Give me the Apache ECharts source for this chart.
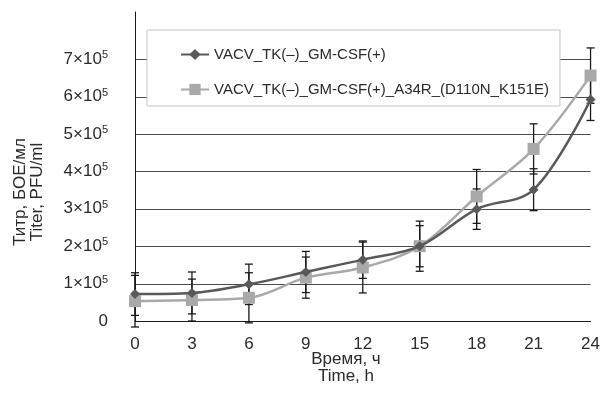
<!DOCTYPE html>
<html>
<head>
<meta charset="utf-8">
<script src="https://cdn.jsdelivr.net/npm/echarts@6/dist/echarts.min.js"></script>
<style>
  html, body { margin: 0; padding: 0; background: #fff; }
  #chart { width: 603px; height: 399px; }
</style>
</head>
<body>
<div id="chart"></div>
<script>
// time points, h
const hours = [0, 3, 6, 9, 12, 15, 18, 21, 24]

// titer, PFU/ml
const gmcsf = [72000, 75000, 98000, 131000, 164000, 200000, 299000, 351000, 592000]
const a34r = [53000, 56000, 62000, 116000, 143000, 200000, 333000, 460000, 656000]

// error bar half-widths
const gmcsfErr = [57000, 56000, 54000, 55000, 50000, 55000, 54000, 56000, 56000]
const a34rErr = [69000, 56000, 67000, 55000, 68000, 67000, 72000, 67000, 74000]

// horizontal grid lines
const gridValues = [100000, 200000, 300000, 400000, 500000, 600000, 700000]

const names = ['VACV_TK(–)_GM-CSF(+)', 'VACV_TK(–)_GM-CSF(+)_A34R_(D110N_K151E)']
const FONT = '"Liberation Sans", Arial, sans-serif'
const TEXT = '#2b2b2b'

const chart = echarts.init(document.getElementById('chart'), null, { renderer: 'canvas' })

function errData(vals, errs) {
  return hours.map((h, i) => [h, vals[i] - errs[i], vals[i] + errs[i]])
}

function renderErr(params, api) {
  const x = api.value(0)
  const lo = api.coord([x, api.value(1)])
  const hi = api.coord([x, api.value(2)])
  const cap = 4
  const style = { stroke: '#1a1a1a', lineWidth: 1.3 }
  return {
    type: 'group',
    children: [
      { type: 'line', shape: { x1: lo[0], y1: lo[1], x2: hi[0], y2: hi[1] }, style },
      { type: 'line', shape: { x1: lo[0] - cap, y1: lo[1], x2: lo[0] + cap, y2: lo[1] }, style },
      { type: 'line', shape: { x1: hi[0] - cap, y1: hi[1], x2: hi[0] + cap, y2: hi[1] }, style }
    ]
  }
}

// full-width horizontal line at a y value
function renderGrid(params, api) {
  const a = api.coord([0, api.value(0)])
  const b = api.coord([24, api.value(0)])
  return {
    type: 'line',
    shape: { x1: a[0], y1: Math.round(a[1]) + 0.5, x2: b[0], y2: Math.round(b[1]) + 0.5 },
    style: { stroke: '#4d4d4d', lineWidth: 1 }
  }
}

const option = {
  animation: false,
  backgroundColor: '#fff',
  grid: { left: 135, right: 8, top: 12, bottom: 78 },
  legend: {
    data: names,
    orient: 'vertical',
    left: 147,
    top: 30,
    z: 20,
    padding: [17, 11, 9, 33],
    itemGap: 20,
    itemWidth: 28,
    itemHeight: 14,
    backgroundColor: '#fff',
    borderColor: '#c4c4c4',
    borderWidth: 1,
    borderRadius: 0,
    textStyle: { fontFamily: FONT, fontSize: 15, color: TEXT }
  },
  xAxis: {
    type: 'value',
    min: 0,
    max: 24,
    interval: 3,
    axisLine: { lineStyle: { color: '#1a1a1a', width: 1 } },
    axisTick: { show: false },
    splitLine: { show: false },
    axisLabel: { fontFamily: FONT, fontSize: 17, color: TEXT, margin: 15 }
  },
  yAxis: {
    type: 'value',
    min: 0,
    max: 826000,
    interval: 100000,
    axisLine: { show: true, lineStyle: { color: '#1a1a1a', width: 1 } },
    axisTick: { show: false },
    splitLine: { show: false },
    axisLabel: {
      margin: 27,
      color: TEXT,
      fontFamily: FONT,
      formatter: v => {
        if (v === 0) return '{b|0}'
        if (v > 700000) return ''
        return '{b|' + Math.round(v / 100000) + '×10}{s|5}'
      },
      rich: {
        b: { fontFamily: FONT, fontSize: 17, color: TEXT },
        s: { fontFamily: FONT, fontSize: 11, color: TEXT, padding: [0, 0, 8, 0] }
      }
    }
  },
  graphic: [
    {
      type: 'text',
      x: 346,
      y: 351,
      style: {
        text: 'Время, ч\nTime, h',
        fontFamily: FONT,
        fontSize: 17,
        lineHeight: 17,
        fill: TEXT,
        align: 'center',
        verticalAlign: 'top'
      }
    },
    {
      type: 'text',
      x: 12,
      y: 192,
      rotation: Math.PI / 2,
      style: {
        text: 'Титр, БОЕ/мл\nTiter, PFU/ml',
        fontFamily: FONT,
        fontSize: 17,
        lineHeight: 17,
        fill: TEXT,
        align: 'center',
        verticalAlign: 'top'
      }
    }
  ],
  series: [
    {
      type: 'custom',
      name: 'grid',
      silent: true,
      z: 0,
      renderItem: renderGrid,
      encode: { y: 0 },
      data: gridValues.map(v => [v])
    },
    {
      type: 'custom',
      name: 'err1',
      z: 1,
      renderItem: renderErr,
      data: errData(gmcsf, gmcsfErr)
    },
    {
      type: 'custom',
      name: 'err2',
      z: 1,
      renderItem: renderErr,
      data: errData(a34r, a34rErr)
    },
    {
      type: 'line',
      name: names[1],
      z: 3,
      smooth: 0.35,
      symbol: 'rect',
      symbolSize: 12,
      lineStyle: { color: '#a9a9a9', width: 2.5 },
      itemStyle: { color: '#a9a9a9' },
      data: hours.map((h, i) => [h, a34r[i]])
    },
    {
      type: 'line',
      name: names[0],
      z: 4,
      smooth: 0.35,
      symbol: 'diamond',
      symbolSize: 10,
      lineStyle: { color: '#595959', width: 2.5 },
      itemStyle: { color: '#595959' },
      data: hours.map((h, i) => [h, gmcsf[i]])
    }
  ]
}

chart.setOption(option)
</script>
</body>
</html>
